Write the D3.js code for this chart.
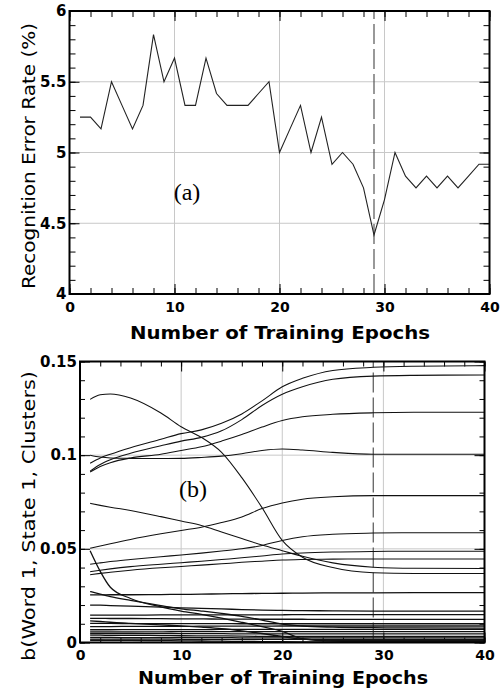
<!DOCTYPE html>
<html><head><meta charset="utf-8">
<script src="https://cdn.jsdelivr.net/npm/d3@7"></script>
<style>
html,body{margin:0;padding:0;background:#fff;}
svg{display:block;}
.tl text{font-family:"DejaVu Sans",Verdana,sans-serif;font-weight:bold;font-size:14px;fill:#000;}
.tly text{font-size:15px;}
.tl path{display:none;}
.tk path{display:none;}
.tk line{stroke:#000;stroke-width:1;}
</style></head><body>
<svg id="c" width="500" height="692"></svg>
<script>
// ---- Panel (a) data ----
const epochsA = d3.range(1, 41);
const errorRate = [5.25,5.25,5.167,5.5,5.333,5.167,5.333,5.833,5.5,5.667,
  5.333,5.333,5.667,5.417,5.333,5.333,5.333,5.417,5.5,5.0,
  5.167,5.333,5.0,5.25,4.917,5.0,4.917,4.75,4.417,4.667,
  5.0,4.833,4.75,4.833,4.75,4.833,4.75,4.833,4.917,4.917];
const xTicks = [0,10,20,30,40];
const yTicksA = [4,4.5,5,5.5,6];
const markerEpoch = 29;

// ---- Panel (b) data ----
const epochsB = [1,2,3,5,8,10,12,14,16,18,20,22,25,29,33,40];
const clusterA = [0.1298,0.1322,0.1327,0.1305,0.1225,0.1152,0.1095,0.1015,0.0880,0.0720,0.0545,0.0455,0.0400,0.0372,0.0368,0.0368];
const clusterB = [0.0957,0.0985,0.1005,0.1040,0.1085,0.1115,0.1135,0.1170,0.1220,0.1290,0.1365,0.1410,0.1452,0.1469,0.1475,0.1478];
const clusterC = [0.0915,0.0950,0.0975,0.1010,0.1050,0.1075,0.1095,0.1130,0.1190,0.1265,0.1325,0.1365,0.1405,0.1422,0.1426,0.1428];
const clusterD = [0.0910,0.0940,0.0960,0.0985,0.1005,0.1025,0.1045,0.1075,0.1110,0.1150,0.1185,0.1205,0.1218,0.1226,0.1229,0.1229];
const clusterE = [0.1000,0.0990,0.0985,0.0983,0.0982,0.0983,0.0988,0.0995,0.1008,0.1025,0.1033,0.1028,0.1015,0.1005,0.1005,0.1005];
const clusterF = [0.0743,0.0732,0.0722,0.0705,0.0672,0.0648,0.0625,0.0590,0.0555,0.0520,0.0490,0.0460,0.0425,0.0402,0.0396,0.0395];
const clusterG = [0.0503,0.0515,0.0527,0.0550,0.0580,0.0598,0.0615,0.0640,0.0670,0.0715,0.0745,0.0765,0.0778,0.0784,0.0784,0.0784];
const clusterH = [0.0418,0.0425,0.0432,0.0443,0.0458,0.0467,0.0477,0.0488,0.0500,0.0518,0.0545,0.0565,0.0578,0.0584,0.0586,0.0586];
const clusterJ = [0.0378,0.0386,0.0393,0.0405,0.0418,0.0426,0.0434,0.0443,0.0452,0.0462,0.0472,0.0478,0.0483,0.0486,0.0487,0.0487];
const clusterK = [0.0362,0.0369,0.0375,0.0386,0.0399,0.0406,0.0413,0.0420,0.0428,0.0434,0.0440,0.0443,0.0445,0.0446,0.0446,0.0446];
const clusterI = [0.0490,0.0380,0.0295,0.0235,0.0190,0.0168,0.0150,0.0130,0.0108,0.0085,0.0060,0.0020,0.0008,0.0005,0.0005,0.0005];
const clusterL = [0.0272,0.0258,0.0245,0.0225,0.0197,0.0180,0.0168,0.0155,0.0140,0.0120,0.0098,0.0088,0.0082,0.0079,0.0078,0.0077];
const clusterM = [0.0254,0.0254,0.0255,0.0255,0.0256,0.0257,0.0258,0.0260,0.0261,0.0262,0.0263,0.0264,0.0265,0.0265,0.0266,0.0266];
const clusterN = [0.0200,0.0199,0.0197,0.0194,0.0189,0.0185,0.0182,0.0179,0.0176,0.0173,0.0171,0.0170,0.0169,0.0168,0.0167,0.0167];
const clusterO = [0.0146,0.0146,0.0146,0.0146,0.0147,0.0147,0.0147,0.0148,0.0148,0.0148,0.0148,0.0149,0.0149,0.0149,0.0149,0.0149];
const clusterP = [0.0129,0.0129,0.0128,0.0128,0.0127,0.0126,0.0126,0.0125,0.0125,0.0124,0.0124,0.0124,0.0123,0.0123,0.0123,0.0123];
const clusterQ = [0.0115,0.0112,0.0108,0.0102,0.0094,0.0089,0.0082,0.0074,0.0062,0.0048,0.0032,0.0018,0.0012,0.0010,0.0010,0.0010];
const clusterR = [0.0102,0.0102,0.0102,0.0101,0.0101,0.0101,0.0101,0.0101,0.0100,0.0100,0.0100,0.0100,0.0100,0.0100,0.0100,0.0100];
const clusterS = [0.0085,0.0085,0.0085,0.0086,0.0086,0.0086,0.0087,0.0087,0.0087,0.0087,0.0088,0.0088,0.0088,0.0088,0.0088,0.0088];
const clusterT = [0.0068,0.0068,0.0068,0.0069,0.0069,0.0069,0.0069,0.0070,0.0070,0.0070,0.0070,0.0070,0.0070,0.0070,0.0070,0.0070];
const clusterU = [0.0057,0.0057,0.0057,0.0057,0.0057,0.0058,0.0058,0.0058,0.0058,0.0058,0.0058,0.0058,0.0058,0.0058,0.0058,0.0058];
const clusterV = [0.0048,0.0048,0.0048,0.0048,0.0047,0.0047,0.0047,0.0047,0.0046,0.0046,0.0046,0.0046,0.0046,0.0046,0.0046,0.0046];
const clusterW = [0.0039,0.0039,0.0038,0.0038,0.0037,0.0036,0.0035,0.0035,0.0034,0.0033,0.0033,0.0032,0.0032,0.0032,0.0032,0.0032];
const clusterX = [0.0027,0.0027,0.0027,0.0026,0.0026,0.0026,0.0026,0.0026,0.0025,0.0025,0.0025,0.0025,0.0025,0.0025,0.0025,0.0025];
const clusterY = [0.0018,0.0018,0.0018,0.0018,0.0018,0.0017,0.0017,0.0017,0.0017,0.0017,0.0017,0.0017,0.0017,0.0017,0.0017,0.0017];
const clusterZ = [0.0012,0.0012,0.0011,0.0011,0.0010,0.0009,0.0008,0.0007,0.0006,0.0005,0.0004,0.0003,0.0003,0.0003,0.0003,0.0003];
const yTicksB = [0,0.05,0.1,0.15];
const yTickLabelsB = ["0","0.05","0.1","0.15"];

const clusters = [clusterA,clusterB,clusterC,clusterD,clusterE,clusterF,clusterG,clusterH,clusterJ,clusterK,
  clusterI,clusterL,clusterM,clusterN,clusterO,clusterP,clusterQ,clusterR,clusterS,clusterT,clusterU,clusterV,
  clusterW,clusterX,clusterY,clusterZ];

const svg = d3.select("#c");

function panel(opts){
  const {x, y, xMinor, yMinor, yMajor, yFmt, minorLen, majorLen} = opts;
  const g = svg.append("g");
  const [x0,x1] = x.range(), [y0,y1] = y.range();
  // gridlines
  g.append("g").selectAll("line").data([10,20,30]).join("line")
    .attr("x1",d=>x(d)).attr("x2",d=>x(d)).attr("y1",y0).attr("y2",y1)
    .attr("stroke","#c8c8c8").attr("stroke-width",1);
  g.append("g").selectAll("line").data(yMajor.slice(1,-1)).join("line")
    .attr("x1",x0).attr("x2",x1).attr("y1",d=>y(d)).attr("y2",d=>y(d))
    .attr("stroke","#c8c8c8").attr("stroke-width",1);
  // inward ticks, four sides
  g.append("g").attr("class","tk").attr("transform",`translate(0,${y0})`)
    .call(d3.axisBottom(x).tickValues(xMinor).tickSize(-minorLen).tickFormat(""));
  g.append("g").attr("class","tk").attr("transform",`translate(0,${y0})`)
    .call(d3.axisBottom(x).tickValues(xTicks).tickSize(-majorLen).tickFormat(""));
  g.append("g").attr("class","tk").attr("transform",`translate(0,${y1})`)
    .call(d3.axisTop(x).tickValues(xMinor).tickSize(-minorLen).tickFormat(""));
  g.append("g").attr("class","tk").attr("transform",`translate(0,${y1})`)
    .call(d3.axisTop(x).tickValues(xTicks).tickSize(-majorLen).tickFormat(""));
  g.append("g").attr("class","tk").attr("transform",`translate(${x0},0)`)
    .call(d3.axisLeft(y).tickValues(yMinor).tickSize(-minorLen).tickFormat(""));
  g.append("g").attr("class","tk").attr("transform",`translate(${x0},0)`)
    .call(d3.axisLeft(y).tickValues(yMajor).tickSize(-majorLen).tickFormat(""));
  g.append("g").attr("class","tk").attr("transform",`translate(${x1},0)`)
    .call(d3.axisRight(y).tickValues(yMinor).tickSize(-minorLen).tickFormat(""));
  g.append("g").attr("class","tk").attr("transform",`translate(${x1},0)`)
    .call(d3.axisRight(y).tickValues(yMajor).tickSize(-majorLen).tickFormat(""));
  // labels
  g.append("g").attr("class","tl").attr("transform",`translate(0,${y0})`)
    .call(d3.axisBottom(x).tickValues(xTicks).tickSize(0).tickPadding(8).tickFormat(d3.format("d")));
  g.append("g").attr("class","tl tly").attr("transform",`translate(${x0},0)`)
    .call(d3.axisLeft(y).tickValues(yMajor).tickSize(0).tickPadding(3).tickFormat(yFmt));
  // marker line
  g.append("line").attr("x1",x(markerEpoch)).attr("x2",x(markerEpoch)).attr("y1",y0).attr("y2",y1)
    .attr("stroke","#555").attr("stroke-width",1.2).attr("stroke-dasharray","20,5");
  return g;
}

// ---------- Panel (a) ----------
const xa = d3.scaleLinear().domain([0,40]).range([69.5,489.5]);
const ya = d3.scaleLinear().domain([4,6]).range([294,11]);
const ga = panel({x:xa, y:ya, xMinor:d3.range(0,41,2), yMinor:d3.range(40,61).map(d=>d/10),
  yMajor:yTicksA, yFmt:d=>d, minorLen:6, majorLen:10});
ga.append("path").datum(errorRate)
  .attr("d", d3.line().x((d,i)=>xa(epochsA[i])).y(d=>ya(d)))
  .attr("fill","none").attr("stroke","#222").attr("stroke-width",1.1);
ga.append("rect").attr("x",69.5).attr("y",11).attr("width",420).attr("height",283)
  .attr("fill","none").attr("stroke","#000").attr("stroke-width",2);
ga.append("text").attr("x",187).attr("y",200).attr("text-anchor","middle")
  .attr("font-family","'Liberation Serif',serif").attr("font-size",24).text("(a)");
ga.append("text").attr("x",280).attr("y",339).attr("text-anchor","middle")
  .attr("font-family","'DejaVu Sans',sans-serif").attr("font-weight","bold").attr("font-size",18)
  .attr("textLength",300).attr("lengthAdjust","spacingAndGlyphs")
  .text("Number of Training Epochs");
ga.append("text").attr("transform","translate(35,156) rotate(-90)").attr("text-anchor","middle")
  .attr("font-family","'DejaVu Sans',sans-serif").attr("font-size",17)
  .attr("textLength",266).attr("lengthAdjust","spacingAndGlyphs")
  .text("Recognition Error Rate (%)");

// ---------- Panel (b) ----------
const xb = d3.scaleLinear().domain([0,40]).range([80,484.5]);
const yb = d3.scaleLinear().domain([0,0.15]).range([642.5,361.5]);
const gb = panel({x:xb, y:yb, xMinor:d3.range(0,41,2), yMinor:d3.range(0,16).map(d=>d/100),
  yMajor:yTicksB, yFmt:(d,i)=>yTickLabelsB[i], minorLen:5, majorLen:10});
const lineB = d3.line().x((d,i)=>xb(epochsB[i])).y(d=>yb(d)).curve(d3.curveMonotoneX);
gb.append("g").selectAll("path").data(clusters).join("path")
  .attr("d", lineB).attr("fill","none").attr("stroke","#111")
  .attr("stroke-width",(d,i)=> i>=10 ? 1.3 : 1.05);
gb.append("rect").attr("x",80).attr("y",361.5).attr("width",404.5).attr("height",281)
  .attr("fill","none").attr("stroke","#000").attr("stroke-width",2);
gb.append("text").attr("x",193).attr("y",497).attr("text-anchor","middle")
  .attr("font-family","'Liberation Serif',serif").attr("font-size",24).text("(b)");
gb.append("text").attr("x",283).attr("y",684).attr("text-anchor","middle")
  .attr("font-family","'DejaVu Sans',sans-serif").attr("font-weight","bold").attr("font-size",18)
  .attr("textLength",290).attr("lengthAdjust","spacingAndGlyphs")
  .text("Number of Training Epochs");
gb.append("text").attr("transform","translate(35,516) rotate(-90)").attr("text-anchor","middle")
  .attr("font-family","'DejaVu Sans',sans-serif").attr("font-size",17)
  .attr("textLength",290).attr("lengthAdjust","spacingAndGlyphs")
  .text("b(Word 1, State 1, Clusters)");
</script>
</body></html>
